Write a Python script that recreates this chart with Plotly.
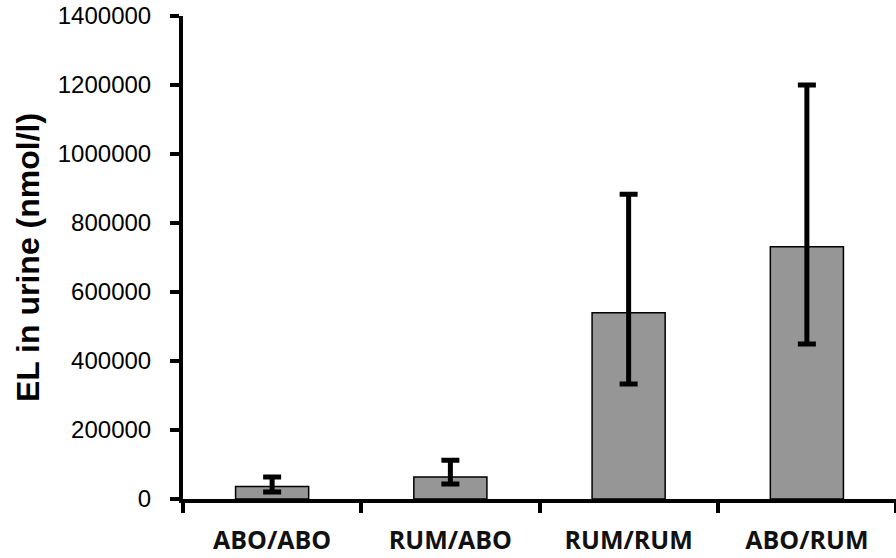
import plotly.graph_objects as go

categories = ["ABO/ABO", "RUM/ABO", "RUM/RUM", "ABO/RUM"]
means = [36000, 64000, 540000, 731000]
err_upper = [64000, 112000, 883000, 1200000]
err_lower = [20000, 43500, 333000, 449000]
y_ticks = [0, 200000, 400000, 600000, 800000, 1000000, 1200000, 1400000]

plus = [u - m for u, m in zip(err_upper, means)]
minus = [m - l for m, l in zip(means, err_lower)]

fig = go.Figure()
fig.add_trace(go.Bar(
    x=categories, y=means, width=0.41,
    marker=dict(color="#969696", line=dict(color="black", width=1.5)),
    error_y=dict(type="data", symmetric=False, array=plus, arrayminus=minus,
                 color="black", thickness=5, width=9),
))

fig.update_layout(
    width=896, height=558,
    margin=dict(l=183, r=0, t=16, b=59),
    paper_bgcolor="white", plot_bgcolor="white",
    showlegend=False,
    xaxis=dict(
        range=[-0.5, 3.5], showline=True, linecolor="black", linewidth=4,
        ticks="outside", tickson="boundaries", ticklen=10, tickwidth=4, tickcolor="black",
        tickfont=dict(family="Open Sans", size=25, color="#111", weight=700),
        showgrid=False, zeroline=False, ticklabelstandoff=16,
    ),
    yaxis=dict(
        range=[0, 1400000], tickvals=y_ticks, ticktext=[str(v) for v in y_ticks],
        showline=True, linecolor="black", linewidth=4,
        ticks="outside", ticklen=9, tickwidth=4, tickcolor="black",
        tickfont=dict(family="Liberation Sans", size=24, color="black"),
        showgrid=False, zeroline=False, ticklabelstandoff=14,
        title=dict(text="EL in urine (nmol/l)", standoff=10,
                   font=dict(family="Liberation Sans", size=32, color="black", weight=700)),
    ),
)

fig.write_html("out.html")
